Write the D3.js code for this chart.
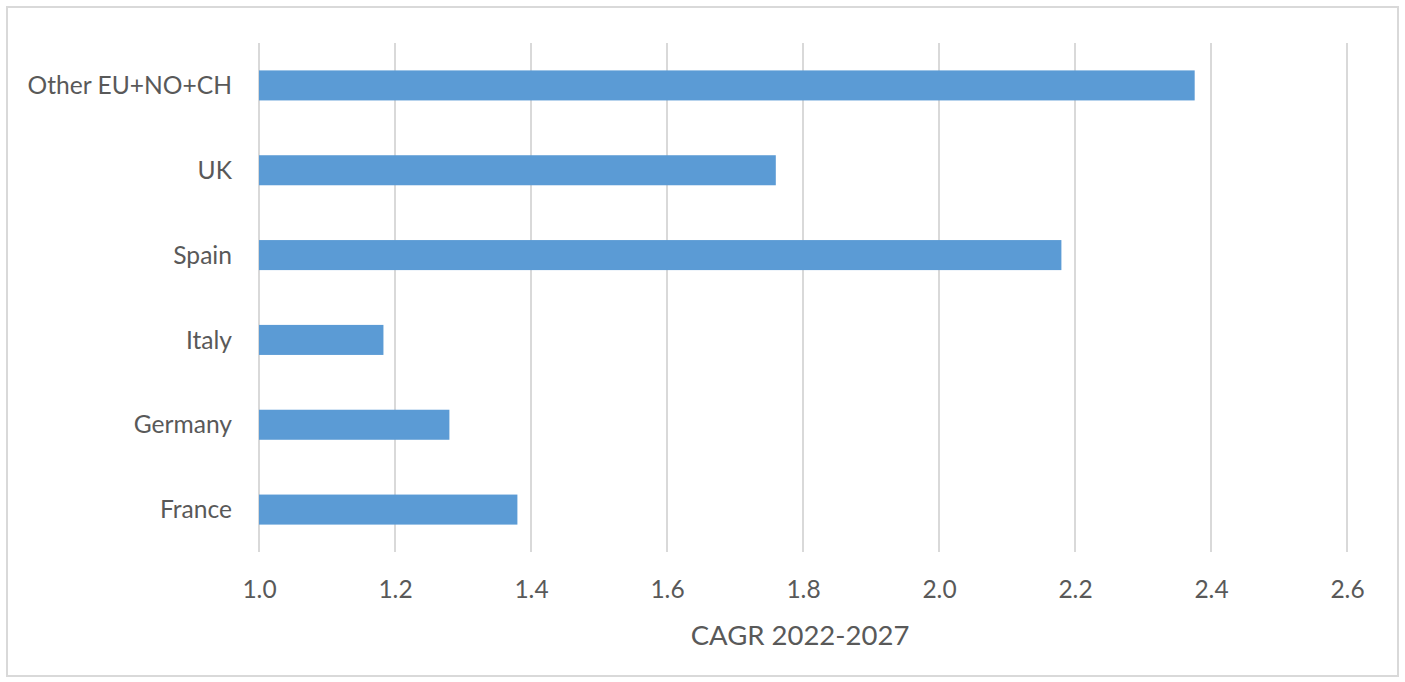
<!DOCTYPE html>
<html><head><meta charset="utf-8">
<script src="https://cdn.jsdelivr.net/npm/d3@7"></script>
<style>
body{margin:0;background:#fff;}
svg text{font-family:Lato,"Open Sans",sans-serif;fill:#595959;}
</style></head>
<body><svg id="c" width="1405" height="682"></svg>
<script>
const categories = ["Other EU+NO+CH","UK","Spain","Italy","Germany","France"];
const values = [2.376, 1.76, 2.18, 1.183, 1.28, 1.38];
const tickValues = [1.0,1.2,1.4,1.6,1.8,2.0,2.2,2.4,2.6];
const axisTitle = "CAGR 2022-2027";

const svg = d3.select("#c");
svg.append("rect").attr("x",7).attr("y",7).attr("width",1391).attr("height",669)
  .attr("fill","#fff").attr("stroke","#d9d9d9").attr("stroke-width",2);

const x = d3.scaleLinear().domain([1.0,2.6]).range([259,1347]);
const y = d3.scaleBand().domain(categories).range([43,552]).paddingInner(0.646).paddingOuter(0.323);

const g = svg.append("g");
g.selectAll("line.grid").data(tickValues).join("line").attr("class","grid")
  .attr("x1",d=>x(d)).attr("x2",d=>x(d)).attr("y1",43).attr("y2",552)
  .attr("stroke","#d9d9d9").attr("stroke-width",2);

g.selectAll("rect.bar").data(categories).join("rect").attr("class","bar")
  .attr("x",x(1.0)).attr("y",d=>y(d)).attr("height",y.bandwidth())
  .attr("width",(d,i)=>x(values[i])-x(1.0)).attr("fill","#5b9bd5");

const xAxis = d3.axisBottom(x).tickValues(tickValues).tickFormat(d3.format(".1f")).tickSize(0).tickPadding(0);
const xa = svg.append("g").attr("transform","translate(0,598)").call(xAxis);
xa.select(".domain").remove();
xa.selectAll("text").attr("dy",0).attr("font-size",24.5).style("font-family","Lato, sans-serif").attr("fill","#595959");

const yAxis = d3.axisLeft(y).tickSize(0).tickPadding(0);
const ya = svg.append("g").attr("transform","translate(232,0)").call(yAxis);
ya.select(".domain").remove();
ya.selectAll("text").attr("font-size",24.6).attr("dy","0.35em").style("font-family","Lato, sans-serif").attr("fill","#595959");

svg.append("text").attr("x",800).attr("y",645).attr("text-anchor","middle")
  .attr("font-size",27.5).text(axisTitle);
</script></body></html>
